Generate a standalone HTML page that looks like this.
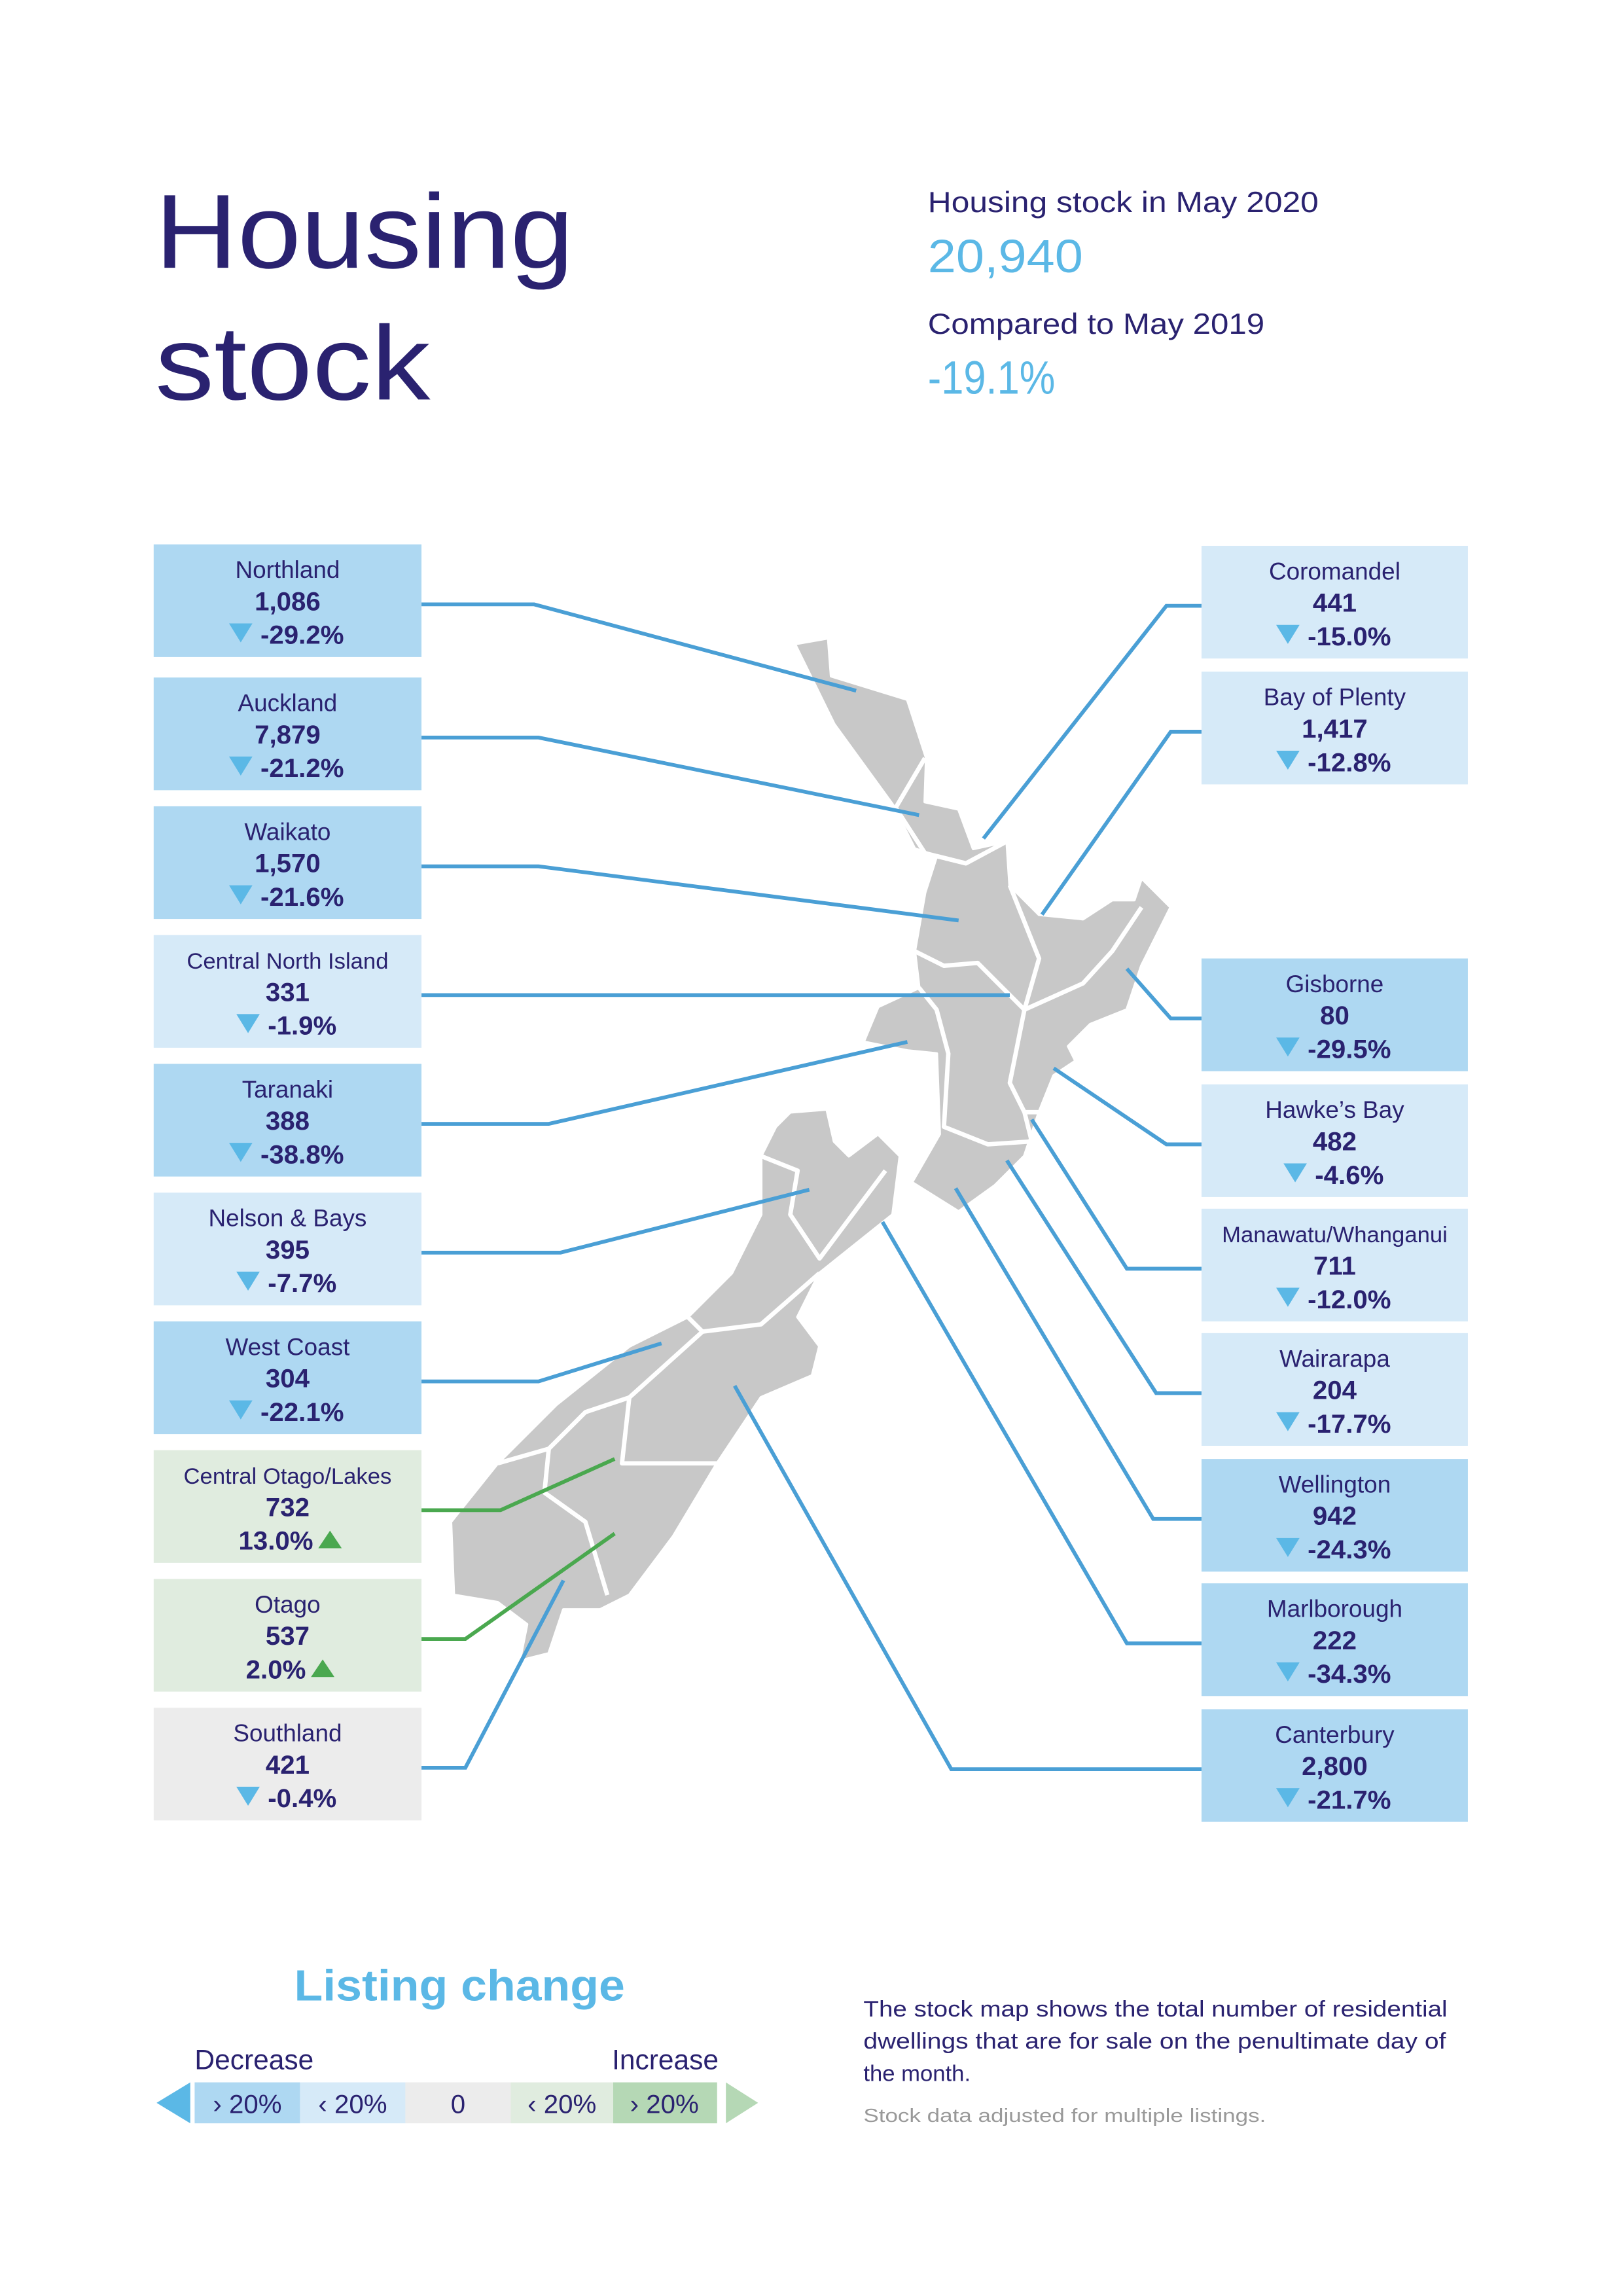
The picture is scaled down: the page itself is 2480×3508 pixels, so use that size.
<!DOCTYPE html>
<html><head><meta charset="utf-8"><style>
html,body{margin:0;padding:0;background:#fff}
svg{display:block}
text{font-family:"Liberation Sans",sans-serif}
</style></head><body>
<svg id="page" width="2480" height="3508" viewBox="0 0 1109 1569" preserveAspectRatio="none" xmlns="http://www.w3.org/2000/svg">
<rect width="1109" height="1569" fill="#fff"/>
<g fill="#2a2270" font-size="72">
<text x="106" y="183" textLength="286" lengthAdjust="spacingAndGlyphs">Housing</text>
<text x="106" y="273" textLength="188" lengthAdjust="spacingAndGlyphs">stock</text>
</g>
<g>
<text x="634" y="145" font-size="20" fill="#2a2270" textLength="267" lengthAdjust="spacingAndGlyphs">Housing stock in May 2020</text>
<text x="634" y="186" font-size="32" fill="#5bb8e6" textLength="106" lengthAdjust="spacingAndGlyphs">20,940</text>
<text x="634" y="228" font-size="20" fill="#2a2270" textLength="230" lengthAdjust="spacingAndGlyphs">Compared to May 2019</text>
<text x="634" y="269" font-size="32" fill="#5bb8e6" textLength="87" lengthAdjust="spacingAndGlyphs">-19.1%</text>
</g>
<g id="map" fill="#c8c8c8" stroke="#fff" stroke-width="2" stroke-linejoin="round">
<polygon points="543,440 566,436 568,462 620,478 633,518 632,548 655,553 665,580 688,575 690,605 710,625 740,628 760,615 775,615 780,600 800,620 780,660 770,690 745,700 730,715 735,725 720,735 710,760 700,790 680,810 655,828 623,808 642,775 640,720 620,718 590,712 600,688 628,675 625,650 632,610 640,585 625,580 610,550 570,495"/>
<polygon points="540,760 565,758 570,780 580,790 600,775 615,790 610,830 560,870 545,900 560,920 555,940 520,955 490,1000 460,1050 430,1090 410,1100 385,1100 375,1130 355,1135 360,1110 340,1095 310,1090 308,1040 340,1000 380,960 430,920 470,900 500,870 520,830 520,790 530,770"/>
<g fill="none" stroke="#fff" stroke-width="3">
<polyline points="632,518 612,552 632,583 660,590"/>
<polyline points="640,585 660,590 688,575"/>
<polyline points="625,650 645,660 668,658 690,680 700,690 710,655 690,605"/>
<polyline points="700,690 740,672 760,650 780,620"/>
<polyline points="628,675 640,690 648,720 645,770 675,782 705,780 700,760 690,740 700,690"/>
<polyline points="700,760 710,760"/>
<polyline points="520,790 545,800 540,830 560,860 605,800"/>
<polyline points="560,870 520,905 480,910 470,900"/>
<polyline points="480,910 430,955 425,1000 490,1000"/>
<polyline points="430,955 400,965 375,990 372,1020 400,1040 415,1090"/>
<polyline points="340,1000 375,990"/>
</g>
</g>
<g id="connectors"></g>
<g id="boxes"></g>
<g>
<text x="314" y="1367" font-size="30" fill="#5bb8e6" text-anchor="middle" font-weight="bold" textLength="226" lengthAdjust="spacingAndGlyphs">Listing change</text>
<text x="133" y="1414" font-size="19" fill="#2a2270">Decrease</text>
<text x="491" y="1414" font-size="19" fill="#2a2270" text-anchor="end">Increase</text>
<polygon points="107,1437 130,1423 130,1451" fill="#5bb8e6"/>
<polygon points="518,1437 496,1423 496,1451" fill="#b5d8b5"/>
<rect x="133" y="1423" width="72" height="28" fill="#aed8f2"/>
<rect x="205" y="1423" width="72" height="28" fill="#d6eaf8"/>
<rect x="277" y="1423" width="72" height="28" fill="#ececec"/>
<rect x="349" y="1423" width="70" height="28" fill="#e0ecdf"/>
<rect x="419" y="1423" width="71" height="28" fill="#b5d8b5"/>
<g font-size="18" fill="#2a2270" text-anchor="middle">
<text x="169" y="1444">› 20%</text><text x="241" y="1444">‹ 20%</text><text x="313" y="1444">0</text><text x="384" y="1444">‹ 20%</text><text x="454" y="1444">› 20%</text>
</g>
</g>
<g fill="#2a2270" font-size="15.5">
<text x="590" y="1378" textLength="399" lengthAdjust="spacingAndGlyphs">The stock map shows the total number of residential</text>
<text x="590" y="1400" textLength="398" lengthAdjust="spacingAndGlyphs">dwellings that are for sale on the penultimate day of</text>
<text x="590" y="1422">the month.</text>
<text x="590" y="1450" font-size="13" fill="#999" textLength="275" lengthAdjust="spacingAndGlyphs">Stock data adjusted for multiple listings.</text>
</g>
</svg>
<script>
const regionNames = ["Northland","Auckland","Waikato","Central North Island","Taranaki","Nelson & Bays","West Coast","Central Otago/Lakes","Otago","Southland","Coromandel","Bay of Plenty","Gisborne","Hawke’s Bay","Manawatu/Whanganui","Wairarapa","Wellington","Marlborough","Canterbury"];
const stockValues = [1086,7879,1570,331,388,395,304,732,537,421,441,1417,80,482,711,204,942,222,2800];
const changeValues = [-29.2,-21.2,-21.6,-1.9,-38.8,-7.7,-22.1,13.0,2.0,-0.4,-15.0,-12.8,-29.5,-4.6,-12.0,-17.7,-24.3,-34.3,-21.7];
// layout (not data)
const boxTops = [372,463,551,639,727,815,903,991,1079,1167,373,459,655,741,826,911,997,1082,1168];
const leaders = [
[[365,414],[585,472]],[[368,502],[628,557]],[[368,590],[655,629]],[[370,677],[690,680]],[[375,764],[620,712]],
[[383,851],[553,813]],[[368,941],[452,918]],[[342,1029],[420,997]],[[318,1117],[420,1048]],[[318,1207],[385,1080]],
[[797,411],[672,573]],[[800,496],[712,625]],[[800,694],[770,662]],[[797,778],[720,730]],[[770,860],[705,765]],
[[790,950],[688,793]],[[788,1034],[653,812]],[[770,1120],[603,835]],[[650,1203],[502,947]]];
const NS="http://www.w3.org/2000/svg";
const boxes=document.getElementById('boxes'), con=document.getElementById('connectors');
function fillFor(c){ if(Math.abs(c)<1) return '#ececec'; if(c<=-20) return '#aed8f2'; if(c<0) return '#d6eaf8'; if(c<20) return '#e0ecdf'; return '#b5d8b5'; }
function fmt(n){ return n.toLocaleString('en-US'); }
regionNames.forEach((name,i)=>{
  const left = i<10;
  const x = left?105:821, w = left?183:182, h=77, y=boxTops[i];
  const cx = x+w/2, c=changeValues[i], up=c>0;
  const edgeX = left?288:821, ly = y+41;
  const pl=document.createElementNS(NS,'polyline');
  
  
  pl.setAttribute('points', `${edgeX},${ly} ${leaders[i][0][0]},${ly} ${leaders[i][1][0]},${leaders[i][1][1]}`);
  pl.setAttribute('fill','none'); pl.setAttribute('stroke', up?'#4aa84f':'#4a9fd5'); pl.setAttribute('stroke-width','2.6');
  con.appendChild(pl);
  const g=document.createElementNS(NS,'g');
  
  
  const r=document.createElementNS(NS,'rect');
  r.setAttribute('x',x); r.setAttribute('y',y); r.setAttribute('width',w); r.setAttribute('height',h); r.setAttribute('fill',fillFor(c));
  g.appendChild(r);
  const t1=document.createElementNS(NS,'text');
  
  
  t1.setAttribute('x',cx); t1.setAttribute('y',y+23); t1.setAttribute('text-anchor','middle'); t1.setAttribute('font-size', name.length>16?'15.5':'16.5'); t1.setAttribute('fill','#2a2270'); t1.textContent=name;
  g.appendChild(t1);
  const t2=document.createElementNS(NS,'text');
  
  
  t2.setAttribute('x',cx); t2.setAttribute('y',y+45); t2.setAttribute('text-anchor','middle'); t2.setAttribute('font-size','18'); t2.setAttribute('font-weight','bold'); t2.setAttribute('fill','#2a2270'); t2.textContent=fmt(stockValues[i]);
  g.appendChild(t2);
  const t3=document.createElementNS(NS,'text');
  
  
  const txt=c.toFixed(1)+'%';
  t3.setAttribute('x',up?cx-8:cx+10); t3.setAttribute('y',y+68); t3.setAttribute('text-anchor','middle'); t3.setAttribute('font-size','18'); t3.setAttribute('font-weight','bold'); t3.setAttribute('fill','#2a2270'); t3.textContent=txt;
  g.appendChild(t3);
  const tw = txt.length*10;
  const tri=document.createElementNS(NS,'polygon');
  
  
  if(up){ const ax=cx-8+tw/2+12; tri.setAttribute('points',`${ax},${y+55} ${ax+8},${y+67} ${ax-8},${y+67}`); tri.setAttribute('fill','#4aa84f'); }
  else { const ax=cx+10-tw/2-12; tri.setAttribute('points',`${ax-8},${y+54} ${ax+8},${y+54} ${ax},${y+67}`); tri.setAttribute('fill','#5bb8e6'); }
  g.appendChild(tri);
  boxes.appendChild(g);
});
</script>
</body></html>
